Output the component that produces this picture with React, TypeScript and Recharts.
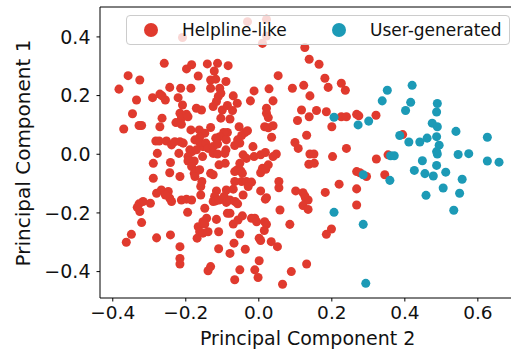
import React from "react";
import {
  ScatterChart,
  Scatter,
  XAxis,
  YAxis,
  ZAxis,
  ReferenceLine,
  Legend,
} from "recharts";

// Series names
const seriesNames = ["Helpline-like", "User-generated"];

// Helpline-like points: [PC2, PC1]
const helplinePoints: [number, number][] = [
  [-0.209, 0.398], [-0.031, 0.452], [0.021, 0.46], [0.021, 0.403], [0.01, 0.378], [0.126, 0.364], [0.138, 0.324], [0.165, 0.307],
  [-0.383, 0.222], [-0.358, 0.268], [-0.326, 0.253], [-0.37, 0.086], [-0.346, 0.138], [-0.335, 0.185], [-0.328, 0.098], [-0.321, 0.098],
  [-0.259, 0.31], [-0.291, 0.193], [-0.271, 0.205], [-0.265, 0.199], [-0.256, 0.185], [-0.244, 0.228], [-0.265, 0.123], [-0.271, 0.094],
  [-0.282, 0.045], [-0.273, 0.045], [-0.253, 0.045], [-0.239, 0.032], [-0.23, 0.043], [-0.221, 0.193], [-0.214, 0.225], [-0.209, 0.168],
  [-0.216, 0.14], [-0.212, 0.123], [-0.227, 0.108], [-0.212, 0.102], [-0.216, 0.043], [-0.207, 0.038], [-0.198, 0.291], [-0.184, 0.305],
  [-0.166, 0.267], [-0.186, 0.225], [-0.171, 0.157], [-0.157, 0.151], [-0.198, 0.136], [-0.194, 0.128], [-0.186, 0.083], [-0.163, 0.083],
  [-0.141, 0.308], [-0.113, 0.31], [-0.084, 0.302], [-0.122, 0.284], [-0.132, 0.253], [-0.118, 0.256], [-0.09, 0.248], [-0.132, 0.225],
  [-0.107, 0.225], [-0.111, 0.197], [-0.104, 0.208], [-0.116, 0.18], [-0.125, 0.163], [-0.1, 0.151], [-0.086, 0.166], [-0.07, 0.199],
  [-0.059, 0.174], [-0.072, 0.149], [-0.104, 0.123], [-0.079, 0.12], [-0.054, 0.094], [-0.047, 0.064], [-0.038, 0.074], [-0.031, 0.08],
  [-0.058, 0.049], [-0.052, 0.038], [-0.066, 0.03], [-0.086, 0.074], [-0.096, 0.074], [-0.107, 0.06], [-0.118, 0.055], [-0.132, 0.091],
  [-0.148, 0.072], [-0.162, 0.058], [-0.175, 0.049], [-0.153, 0.026], [-0.162, 0.04], [-0.145, 0.038], [-0.139, 0.02], [-0.125, 0.026],
  [-0.113, 0.035], [-0.089, 0.049], [-0.189, 0.015], [-0.183, 0.009], [-0.171, 0.015], [-0.154, -0.008], [-0.177, -0.023], [-0.125, 0.003],
  [-0.113, 0.001], [-0.093, 0.003], [-0.289, -0.031], [-0.278, 0.003], [-0.289, -0.082], [-0.28, -0.133], [-0.267, -0.122], [-0.248, -0.127],
  [-0.244, -0.15], [-0.239, -0.161], [-0.219, 0.003], [-0.242, -0.028], [-0.244, -0.063], [-0.216, -0.076], [-0.194, -0.008], [-0.194, -0.023],
  [-0.184, -0.042], [-0.171, -0.057], [-0.177, -0.065], [-0.175, -0.076], [-0.162, -0.053], [-0.156, -0.093], [-0.159, -0.11], [-0.159, -0.139],
  [-0.132, -0.065], [-0.125, -0.07], [-0.109, -0.036], [-0.092, -0.031], [-0.09, 0.015], [-0.059, -0.053], [-0.066, -0.059], [-0.049, -0.057],
  [-0.045, -0.065], [-0.047, -0.093], [-0.034, -0.093], [-0.02, -0.095], [-0.029, -0.11], [-0.066, -0.093], [-0.07, -0.119], [-0.089, -0.122],
  [-0.116, -0.125], [-0.121, -0.144], [-0.125, -0.161], [-0.118, -0.159], [-0.109, -0.156], [-0.095, -0.144], [-0.089, -0.164], [-0.079, -0.156],
  [-0.065, -0.161], [-0.058, -0.169], [-0.043, -0.139], [-0.013, -0.008], [-0.043, -0.002], [-0.034, -0.014], [-0.052, -0.031], [-0.016, 0.026],
  [0.005, -0.002], [0.018, 0.006], [0.01, -0.048], [0.005, -0.063], [0.019, -0.051], [0.026, -0.036], [0.039, -0.008], [0.048, 0.001],
  [0.055, -0.093], [0.055, -0.114], [0.005, -0.125], [0.021, -0.148], [0.018, -0.153], [0.058, -0.19], [-0.317, -0.161], [-0.297, -0.167],
  [-0.328, -0.169], [-0.326, -0.195], [-0.333, -0.181], [-0.256, -0.139], [-0.212, -0.156], [-0.198, -0.153], [-0.184, -0.156], [-0.195, -0.198],
  [-0.148, -0.184], [-0.086, -0.201], [-0.079, -0.201], [-0.116, -0.222], [-0.143, -0.218], [-0.153, -0.23], [-0.166, -0.247], [-0.148, -0.238],
  [-0.162, -0.264], [-0.169, -0.286], [-0.153, -0.269], [-0.139, -0.264], [-0.11, -0.264], [-0.07, -0.238], [-0.057, -0.224], [-0.045, -0.21],
  [-0.02, -0.218], [-0.011, -0.218], [-0.006, -0.23], [0.016, -0.23], [0.021, -0.239], [0.015, -0.26], [0.001, -0.286], [0.005, -0.294],
  [0.034, -0.298], [0.051, -0.315], [0.085, -0.239], [-0.052, -0.272], [-0.068, -0.303], [-0.079, -0.338], [-0.037, -0.324], [-0.11, -0.322],
  [-0.132, -0.383], [-0.139, -0.397], [-0.066, -0.428], [-0.052, -0.394], [-0.011, -0.394], [-0.002, -0.42], [0.001, -0.363], [0.065, -0.443],
  [0.089, -0.4], [0.131, -0.374], [-0.363, -0.3], [-0.349, -0.273], [-0.28, -0.285], [-0.242, -0.275], [-0.216, -0.315], [-0.216, -0.355],
  [-0.216, -0.374], [-0.321, -0.233],
  [0.053, 0.268], [0.092, 0.225], [0.123, 0.235], [0.14, 0.199], [0.028, 0.223], [0.039, 0.182], [-0.013, 0.216], [-0.023, 0.182],
  [0.021, 0.157], [0.021, 0.14], [0.026, 0.125], [0.016, 0.094], [0.026, 0.09], [0.039, 0.097], [0.035, 0.058], [0.117, 0.151],
  [0.138, 0.128], [0.158, 0.149], [0.106, 0.115], [0.131, 0.065], [0.099, 0.04], [0.108, 0.02], [0.14, 0.001], [0.151, 0.001],
  [0.137, -0.034], [0.152, -0.031], [0.181, 0.259], [0.19, 0.228], [0.226, 0.242], [0.237, 0.218], [0.185, 0.145], [0.226, 0.128],
  [0.24, 0.128], [0.268, 0.136], [0.274, 0.131], [0.321, 0.133], [0.2, 0.094], [0.24, 0.02], [0.202, -0.008], [0.322, -0.016],
  [0.354, -0.002], [0.394, 0.067], [0.345, -0.07], [0.268, -0.059], [0.277, -0.063], [0.295, -0.076], [0.268, -0.118], [0.22, -0.102],
  [0.182, -0.13], [0.268, -0.173], [0.199, -0.255], [0.185, -0.273], [0.101, -0.125], [0.121, -0.131], [0.128, -0.15], [0.135, -0.156],
  [0.121, -0.175], [0.135, -0.188], [0.126, -0.142],
];

// User-generated points: [PC2, PC1]
const userPoints: [number, number][] = [
  [0.206, 0.126], [0.272, 0.1], [0.301, 0.113], [0.338, 0.182], [0.352, 0.218], [0.42, 0.235], [0.416, 0.177], [0.402, 0.149],
  [0.489, 0.173], [0.487, 0.144], [0.475, 0.106], [0.489, 0.094], [0.54, 0.078], [0.386, 0.064], [0.411, 0.042], [0.441, 0.042],
  [0.461, 0.055], [0.487, 0.06], [0.494, 0.031], [0.487, 0.009], [0.489, 0.001], [0.448, -0.022], [0.426, -0.055], [0.455, -0.066],
  [0.478, -0.074], [0.512, -0.061], [0.487, -0.038], [0.546, -0.001], [0.575, 0.002], [0.626, 0.058], [0.626, -0.023], [0.658, -0.027],
  [0.534, -0.191], [0.557, -0.085], [0.505, -0.115], [0.55, -0.133], [0.458, -0.14], [0.361, -0.005], [0.371, -0.005], [0.359, -0.089],
  [0.286, -0.07], [0.206, -0.198], [0.286, -0.239], [0.293, -0.44],
];

const xTicks = [-0.4, -0.2, 0.0, 0.2, 0.4, 0.6];
const yTicks = [-0.4, -0.2, 0.0, 0.2, 0.4];
const xDomain: [number, number] = [-0.435, 0.699];
const yDomain: [number, number] = [-0.49, 0.502];
const xLabel = "Principal Component 2";
const yLabel = "Principal Component 1";

const RED = "#E03A2E";
const TEAL = "#1C9AB6";
const FONT = "'DejaVu Sans', sans-serif";

const helplineData = helplinePoints.map(([x, y]) => ({ x, y }));
const userData = userPoints.map(([x, y]) => ({ x, y }));

const fmt = (v: number) => {
  const s = Math.abs(v).toFixed(1);
  return v < -1e-9 ? "\u2212" + s : s;
};

const renderLegend = () => (
  <div
    style={{
      position: "relative",
      width: 384,
      height: 30,
      boxSizing: "border-box",
      background: "rgba(255,255,255,0.8)",
      border: "1px solid #cccccc",
      borderRadius: 4,
      fontFamily: FONT,
      fontSize: 17,
      color: "#111",
    }}
  >
    {[
      { name: seriesNames[0], color: RED, dot: 24, text: 55 },
      { name: seriesNames[1], color: TEAL, dot: 212, text: 243 },
    ].map((it) => (
      <React.Fragment key={it.name}>
        <span
          style={{
            position: "absolute",
            left: it.dot - 7,
            top: 15 - 7 - 1,
            width: 14,
            height: 14,
            borderRadius: 7,
            background: it.color,
          }}
        />
        <span
          style={{
            position: "absolute",
            left: it.text,
            top: 3,
            lineHeight: "22px",
            whiteSpace: "nowrap",
          }}
        >
          {it.name}
        </span>
      </React.Fragment>
    ))}
  </div>
);

export default function App() {
  return (
    <div
      style={{
        position: "absolute",
        left: 0,
        top: 0,
        width: 511,
        height: 349,
        overflow: "hidden",
        background: "#fff",
      }}
    >
      <ScatterChart
        width={520}
        height={349}
        margin={{ top: 7, right: 6, bottom: 0, left: 0 }}
        style={{ fontFamily: FONT }}
      >
        <XAxis
          type="number"
          dataKey="x"
          domain={xDomain}
          ticks={xTicks}
          tickFormatter={fmt}
          allowDataOverflow
          height={51}
          stroke="#000"
          axisLine={{ stroke: "#000", strokeWidth: 1 }}
          tickLine={{ stroke: "#000" }}
          tickSize={3.5}
          tickMargin={4}
          tick={{ fill: "#111", fontSize: 18.5, fontFamily: FONT }}
          label={{
            content: () => (
              <text
                x={307.7}
                y={344.5}
                textAnchor="middle"
                fill="#111"
                fontSize={19}
                fontFamily={FONT}
              >
                {xLabel}
              </text>
            ),
          }}
        />
        <YAxis
          type="number"
          dataKey="y"
          domain={yDomain}
          ticks={yTicks}
          tickFormatter={fmt}
          allowDataOverflow
          width={100}
          stroke="#000"
          axisLine={{ stroke: "#000", strokeWidth: 1 }}
          tickLine={{ stroke: "#000" }}
          tickSize={3.5}
          tickMargin={6}
          tick={{ fill: "#111", fontSize: 19, fontFamily: FONT }}
          label={{
            content: () => (
              <text
                x={30}
                y={153}
                transform="rotate(-90 30 153)"
                textAnchor="middle"
                fill="#111"
                fontSize={20}
                fontFamily={FONT}
              >
                {yLabel}
              </text>
            ),
          }}
        />
        <ZAxis range={[50, 50]} />
        <ReferenceLine y={yDomain[1]} stroke="#000" strokeWidth={1} ifOverflow="visible" />
        <Scatter
          name={seriesNames[0]}
          data={helplineData}
          fill={RED}
          isAnimationActive={false}
        />
        <Scatter
          name={seriesNames[1]}
          data={userData}
          fill={TEAL}
          isAnimationActive={false}
        />
        <Legend
          layout="vertical"
          align="center"
          verticalAlign="middle"
          content={renderLegend}
          wrapperStyle={{ position: "absolute", left: 126, top: 15, width: 384, height: 30 }}
        />
      </ScatterChart>
    </div>
  );
}
